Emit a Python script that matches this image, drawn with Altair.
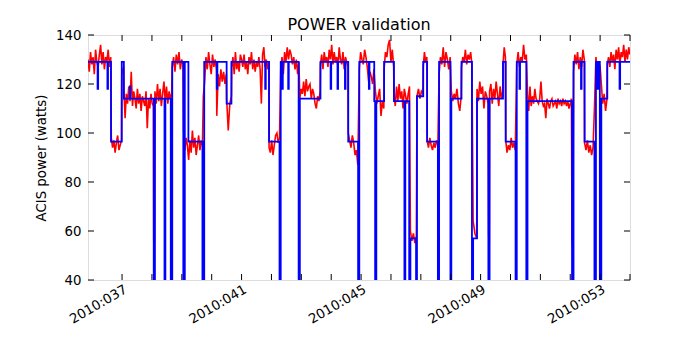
import altair as alt
import pandas as pd

# ---------------- data (day of year 2010, watts) ----------------
# Model prediction (blue) as step breakpoints
blue_t = [35.86, 36.18, 36.20, 36.51, 36.53, 36.63, 36.99, 37.06, 37.26, 37.28,
          38.06, 38.10, 38.42, 38.45, 38.63, 38.68, 39.05, 39.10, 39.22, 39.69,
          39.75, 40.17, 40.19, 40.50, 40.66, 41.79, 41.81, 41.92, 42.27, 42.31,
          42.36, 42.38, 42.56, 42.58, 42.91, 42.95, 43.64, 43.98, 44.00, 44.21,
          44.23, 44.46, 44.48, 44.57, 44.90, 44.94, 45.26, 45.28, 45.44, 45.47,
          45.51, 45.77, 46.10, 46.45, 46.48, 46.61, 46.65, 46.84, 46.87, 47.08,
          47.21, 47.57, 47.61, 47.99, 48.02, 48.36, 48.71, 48.75, 48.88, 49.26,
          49.30, 49.75, 49.84, 50.17, 50.21, 50.30, 50.32, 50.53, 50.57, 52.06,
          52.11, 52.36, 52.38, 52.48, 52.81, 52.86, 52.92, 52.94, 52.99, 53.04,
          53.24, 53.65, 53.67, 54.00]
blue_v = [129, 118, 129, 118, 129, 96.5, 129, 114, 119, 114,
          0, 114, 0, 114, 0, 129, 0, 129, 96.5, 0,
          129, 118, 129, 112, 129, 118, 129, 96.5, 0, 129,
          118, 129, 118, 129, 0, 114, 129, 118, 129, 118,
          129, 118, 129, 96.5, 0, 129, 118, 129, 113, 0,
          113, 129, 113, 0, 113, 0, 57, 0, 115, 129,
          96.5, 0, 129, 0, 114, 129, 0, 57, 114, 0,
          114, 129, 96.5, 0, 129, 118, 129, 0, 113, 0,
          129, 118, 129, 96.5, 0, 129, 118, 129, 0, 114,
          129, 118, 129, 129]

# Telemetry (red): (start day, end day, readings in that interval)
red_segments = [
    (35.86, 36.62, [130, 125, 133, 128, 131, 124, 134, 129, 127, 132, 136, 128, 133,
                    126, 131, 129, 134, 127, 131]),
    (36.64, 36.98, [98, 94, 97, 92, 96, 99, 93, 95, 97]),
    (36.99, 37.05, [124, 127]),
    (37.06, 38.05, [118, 106, 116, 112, 119, 113, 125, 111, 117, 114, 110, 118, 112,
                    116, 109, 115, 113, 111, 117, 102, 114, 110, 116, 112, 111]),
    (38.06, 38.08, [56, 53]),
    (38.10, 38.66, [117, 112, 120, 113, 118, 111, 116, 121, 113, 119, 112, 117, 114, 116]),
    (38.68, 39.04, [127, 131, 125, 132, 128, 133, 126, 130, 128]),
    (39.06, 39.69, [101, 93, 98, 95, 89, 97, 92, 101, 94, 98, 91, 95, 99, 93, 97, 95]),
    (39.72, 40.16, [115, 121, 131, 126, 133, 128, 124, 132, 127, 130, 126]),
    (40.17, 40.49, [107, 124, 119, 126, 121, 125, 120, 124]),
    (40.50, 40.66, [114, 101, 112, 115]),
    (40.67, 41.91, [127, 131, 124, 133, 126, 129, 125, 132, 130, 127, 132, 126, 129,
                    124, 131, 128, 133, 126, 130, 125, 129, 127, 131, 126, 112, 132,
                    135, 127, 130, 126, 129]),
    (41.92, 42.27, [94, 92, 97, 91, 95, 99, 100, 96, 98]),
    (42.31, 42.92, [126, 131, 124, 133, 129, 135, 130, 134, 132, 128, 131, 126, 130,
                    124, 129]),
    (42.95, 43.63, [114, 118, 116, 121, 115, 122, 117, 119, 120, 114, 118, 116, 112,
                    110, 115, 113, 117]),
    (43.64, 44.56, [128, 132, 126, 133, 129, 131, 127, 134, 130, 136, 128, 133, 129,
                    131, 127, 135, 130, 128, 133, 126, 131, 129, 127]),
    (44.57, 44.89, [100, 97, 94, 99, 96, 91, 93, 87]),
    (44.94, 45.43, [126, 133, 130, 128, 134, 131, 127, 121, 125, 123, 120, 126]),
    (45.48, 45.76, [117, 112, 115, 118, 107, 113, 110]),
    (45.77, 46.09, [126, 133, 131, 136, 138, 129, 134, 127]),
    (46.10, 46.62, [116, 111, 119, 113, 120, 114, 117, 110, 118, 115, 112, 116, 119]),
    (46.65, 46.85, [60, 56, 59, 55, 58]),
    (46.87, 47.07, [115, 118, 114, 117, 116]),
    (47.08, 47.20, [127, 133, 129, 131]),
    (47.21, 47.57, [97, 94, 98, 95, 93, 96, 94, 97, 95]),
    (47.61, 47.98, [124, 131, 128, 135, 127, 133, 130, 126, 131]),
    (48.02, 48.35, [117, 113, 116, 114, 118, 112, 109, 115]),
    (48.36, 48.71, [127, 131, 129, 134, 128, 132, 130, 133, 128]),
    (48.75, 48.87, [64, 59, 57]),
    (48.88, 49.25, [118, 113, 121, 116, 119, 110, 117, 115, 112]),
    (49.27, 49.29, [58, 55]),
    (49.30, 49.74, [117, 120, 112, 118, 114, 121, 116, 111, 119, 114, 117]),
    (49.75, 49.83, [128, 135, 131]),
    (49.84, 50.16, [97, 92, 95, 93, 98, 94, 96, 93]),
    (50.21, 50.53, [128, 133, 127, 131, 129, 136, 130, 132]),
    (50.57, 52.04, [116, 109, 119, 111, 115, 112, 118, 114, 113, 112, 114, 121, 113,
                    111, 112, 106, 114, 112, 110, 113, 114, 111, 112, 113, 110, 114,
                    112, 113, 111, 114, 112, 113, 111, 113, 110, 112, 114]),
    (52.06, 52.09, [56, 51]),
    (52.11, 52.47, [125, 132, 128, 133, 126, 131, 127, 134, 130]),
    (52.48, 52.81, [96, 93, 97, 92, 95, 91, 94, 110]),
    (52.86, 53.00, [131, 125, 129, 127]),
    (53.04, 53.23, [120, 112, 116, 109, 114]),
    (53.24, 54.00, [128, 131, 127, 133, 129, 132, 126, 134, 130, 135, 128, 133, 131,
                    136, 129, 134, 130, 135, 132]),
]

y_ticks = [40, 60, 80, 100, 120, 140]
day_ticks = list(range(37, 55))
label_days = [37, 41, 45, 49, 53]

# ---------------- tables ----------------
blue_df = pd.DataFrame({"t": blue_t, "v": blue_v})
rows = []
for t0, t1, vals in red_segments:
    n = len(vals)
    for i, val in enumerate(vals):
        rows.append({"t": t0 + (t1 - t0) * i / (n - 1), "v": val})
red_df = pd.DataFrame(rows)
yt_df = pd.DataFrame({"v": y_ticks})
xt_df = pd.DataFrame({"t": day_ticks})

W, H = 542, 245
FONT = "DejaVu Sans"
xscale = alt.Scale(domain=[35.86, 54.0], nice=False, zero=False)
yscale = alt.Scale(domain=[40, 140], nice=False, zero=False)

xaxis = alt.Axis(values=label_days, labelExpr="'2010:0' + datum.value",
                 labelAngle=330, labelAlign="right", labelBaseline="top",
                 labelPadding=2, ticks=False, tickSize=0, domain=False, grid=False,
                 title=None, labelFont=FONT, labelFontSize=13.3, labelColor="black",
                 labelOverlap=False)
yaxis = alt.Axis(values=y_ticks, ticks=False, tickSize=0, domain=False, grid=False,
                 title="ACIS power (watts)", titleFont=FONT, titleFontSize=13.3,
                 titleFontWeight="normal", titleColor="black", titleX=-40,
                 titleY=H / 2, labelFont=FONT, labelFontSize=13.3,
                 labelColor="black", labelPadding=7)

def X(field="t"):
    return alt.X(f"{field}:Q", scale=xscale, axis=xaxis)

def Y(field="v"):
    return alt.Y(f"{field}:Q", scale=yscale, axis=yaxis)

red = alt.Chart(red_df).mark_line(color="#ff0000", strokeWidth=1.6, clip=True).encode(
    x=X(), y=Y(), order="t:Q")
blue = alt.Chart(blue_df).mark_line(color="#0000ff", strokeWidth=1.8, clip=True,
                                    interpolate="step-after").encode(x=X(), y=Y(), order="t:Q")

tick_style = dict(color="black", strokeWidth=1)
yl = alt.Chart(yt_df).mark_rule(**tick_style).encode(y=Y(), x=alt.value(0), x2=alt.value(6))
yr = alt.Chart(yt_df).mark_rule(**tick_style).encode(y=Y(), x=alt.value(W - 6), x2=alt.value(W))
xb = alt.Chart(xt_df).mark_rule(**tick_style).encode(x=X(), y=alt.value(H - 6), y2=alt.value(H))
xtp = alt.Chart(xt_df).mark_rule(**tick_style).encode(x=X(), y=alt.value(0), y2=alt.value(6))

chart = alt.layer(red, blue, yl, yr, xb, xtp).properties(
    width=W, height=H,
    title=alt.Title("POWER validation", fontSize=16, font=FONT, fontWeight="normal",
                    color="black", anchor="middle", offset=6, dy=11),
    autosize=alt.AutoSizeParams(type="none"),
    padding={"left": 80, "top": 27, "right": 62, "bottom": 62},
).configure_view(stroke="black", strokeWidth=1).configure(background="white")

chart.save("out.html", embed_options={"renderer": "svg", "actions": False})
